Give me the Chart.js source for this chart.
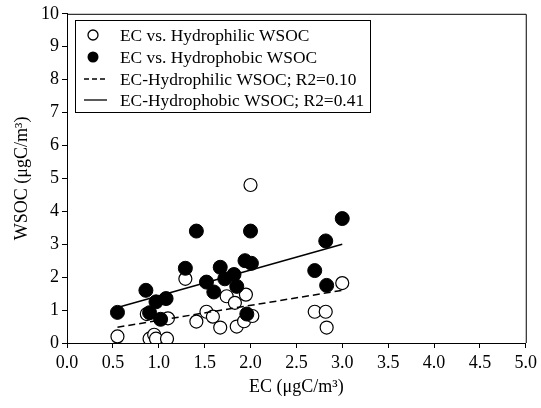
<!DOCTYPE html>
<html>
<head>
<meta charset="utf-8">
<script src="https://cdn.jsdelivr.net/npm/chart.js@4.4.1/dist/chart.umd.min.js"></script>
<style>
html,body{margin:0;padding:0;background:#fff;}
#wrap{width:541px;height:408px;position:relative;}
</style>
</head>
<body>
<div id="wrap"><canvas id="c" width="541" height="408"></canvas></div>
<script>
// Data
const philicX = [0.55, 0.87, 0.90, 0.95, 0.97, 1.09, 1.10, 1.29, 1.41, 1.52, 1.59, 1.67, 1.74, 1.83, 1.85, 1.95, 1.93, 2.02, 2.00, 2.70, 2.82, 2.83, 3.00];
const philicY = [0.20, 0.88, 0.13, 0.25, 0.13, 0.13, 0.75, 1.95, 0.65, 0.95, 0.80, 0.47, 1.42, 1.22, 0.50, 1.47, 0.66, 0.82, 4.80, 0.95, 0.95, 0.47, 1.82];
const phobicX = [0.55, 0.86, 0.90, 0.97, 1.08, 1.02, 1.29, 1.41, 1.52, 1.60, 1.67, 1.72, 1.82, 1.85, 1.94, 2.01, 2.00, 1.96, 2.70, 2.82, 2.83, 3.00];
const phobicY = [0.93, 1.60, 0.92, 1.25, 1.35, 0.72, 2.27, 3.40, 1.85, 1.55, 2.30, 1.95, 2.08, 1.72, 2.50, 2.42, 3.40, 0.88, 2.20, 3.10, 1.75, 3.78];
const fitX = [0.55, 3.00];
const philicFitY = [0.48, 1.60];
const phobicFitY = [1.08, 3.00];
const xTicks = [0, 0.5, 1, 1.5, 2, 2.5, 3, 3.5, 4, 4.5, 5];
const yTicks = [0, 1, 2, 3, 4, 5, 6, 7, 8, 9, 10];
const legendLabels = ['EC vs. Hydrophilic WSOC', 'EC vs. Hydrophobic WSOC', 'EC-Hydrophilic WSOC; R2=0.10', 'EC-Hydrophobic WSOC; R2=0.41'];

const FONT = '"Liberation Serif", "Times New Roman", serif';
const pts = (xs, ys) => xs.map((x, i) => ({x: x, y: ys[i]}));

const boxPlugin = {
  id: 'boxPlugin',
  afterDraw(chart) {
    const ctx = chart.ctx, a = chart.chartArea;
    ctx.save();
    ctx.strokeStyle = '#000';
    ctx.lineWidth = 1;
    ctx.beginPath();
    ctx.moveTo(a.left, a.top + 0.5);
    ctx.lineTo(a.right + 0.5, a.top + 0.5);
    ctx.lineTo(a.right + 0.5, a.bottom);
    ctx.stroke();
    // legend
    const bx = 75.5, by = 20.5, bw = 295, bh = 92;
    ctx.fillStyle = '#fff';
    ctx.fillRect(bx, by, bw, bh);
    ctx.strokeRect(bx, by, bw, bh);
    ctx.font = '17.4px ' + FONT;
    ctx.fillStyle = '#000';
    ctx.textBaseline = 'middle';
    ctx.textAlign = 'left';
    const rows = [35, 57, 79, 100];
    const sx = 93, tx = 120;
    rows.forEach((ry, i) => {
      ctx.lineWidth = 1.3;
      if (i === 0) {
        ctx.beginPath(); ctx.arc(sx, ry, 5, 0, Math.PI * 2); ctx.stroke();
      } else if (i === 1) {
        ctx.beginPath(); ctx.arc(sx, ry, 5.5, 0, Math.PI * 2); ctx.fill();
      } else {
        ctx.beginPath();
        if (i === 2) ctx.setLineDash([5, 3]); else ctx.setLineDash([]);
        ctx.moveTo(84, ry); ctx.lineTo(107, ry); ctx.stroke();
        ctx.setLineDash([]);
      }
      ctx.fillText(legendLabels[i], tx, ry + 1);
    });
    ctx.restore();
  }
};

new Chart(document.getElementById('c'), {
  type: 'scatter',
  data: {
    datasets: [
      {label: legendLabels[3], type: 'line', data: pts(fitX, phobicFitY), borderColor: '#000', borderWidth: 1.5, pointRadius: 0, fill: false, order: 0},
      {label: legendLabels[2], type: 'line', data: pts(fitX, philicFitY), borderColor: '#000', borderWidth: 1.5, borderDash: [7, 4], pointRadius: 0, fill: false, order: 1},
      {label: legendLabels[1], data: pts(phobicX, phobicY), pointRadius: 7, pointBackgroundColor: '#000', pointBorderColor: '#000', pointBorderWidth: 1, order: 2},
      {label: legendLabels[0], data: pts(philicX, philicY), pointRadius: 6.5, pointBackgroundColor: '#fff', pointBorderColor: '#000', pointBorderWidth: 1.2, order: 3}
    ]
  },
  options: {
    responsive: false,
    animation: false,
    layout: {padding: {top: 13, right: 14, left: 0, bottom: 0}},
    plugins: {legend: {display: false}, tooltip: {enabled: false}},
    scales: {
      x: {
        type: 'linear', min: 0, max: 5,
        afterBuildTicks: s => { s.ticks = xTicks.map(v => ({value: v})); },
        afterFit: s => { s.height = 65; },
        ticks: {color: '#000', font: {family: FONT, size: 18}, padding: 4, maxRotation: 0,
                callback: v => Number(v).toFixed(1)},
        grid: {display: true, drawOnChartArea: false, drawTicks: true, tickLength: 5, color: '#000'},
        border: {display: true, color: '#000', width: 1},
        title: {display: true, text: 'EC (\u03bcgC/m\u00b3)', color: '#000', font: {family: FONT, size: 18}, padding: {top: 0, bottom: 10}}
      },
      y: {
        type: 'linear', min: 0, max: 10,
        afterBuildTicks: s => { s.ticks = yTicks.map(v => ({value: v})); },
        afterFit: s => { s.width = 67; },
        ticks: {color: '#000', font: {family: FONT, size: 18}, padding: 3,
                callback: v => String(v)},
        grid: {display: true, drawOnChartArea: false, drawTicks: true, tickLength: 5, color: '#000'},
        border: {display: true, color: '#000', width: 1},
        title: {display: true, text: 'WSOC (\u03bcgC/m\u00b3)', color: '#000', font: {family: FONT, size: 18}, padding: {top: 11, bottom: 0}}
      }
    }
  },
  plugins: [boxPlugin]
});
</script>
</body>
</html>
